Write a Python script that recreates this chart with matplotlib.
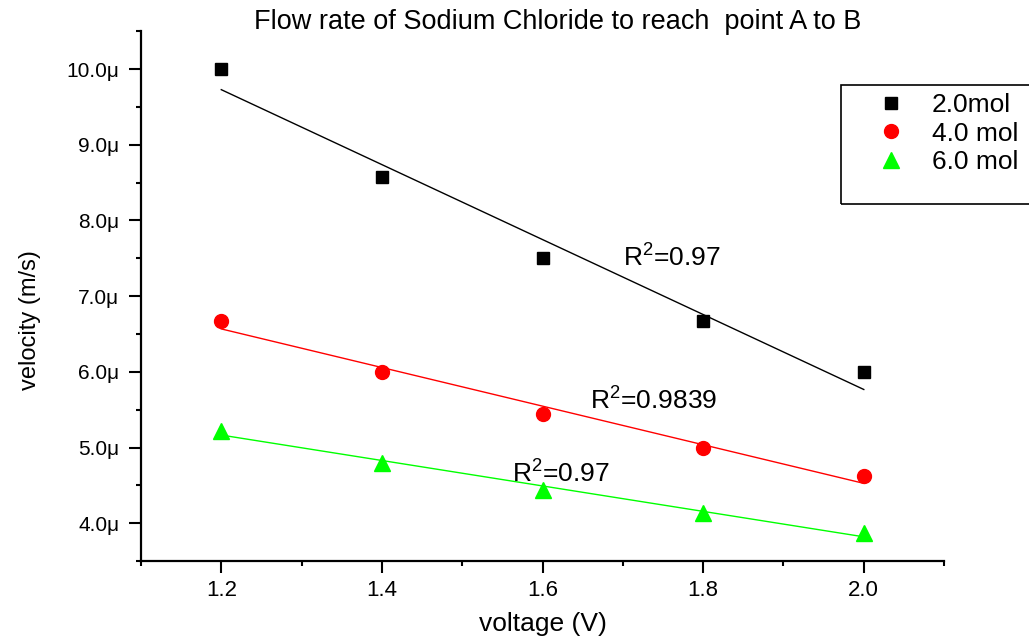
import numpy as np
import matplotlib
matplotlib.use("Agg")
import matplotlib.pyplot as plt
from matplotlib.ticker import MultipleLocator, FuncFormatter
from matplotlib.patches import Rectangle

voltage = [1.2, 1.4, 1.6, 1.8, 2.0]
v_2mol = [10.0, 8.57, 7.5, 6.67, 6.0]      # micro m/s
v_4mol = [6.67, 6.0, 5.45, 5.0, 4.62]
v_6mol = [5.22, 4.8, 4.44, 4.14, 3.87]
labels = ["2.0mol", "4.0 mol", "6.0 mol"]
r2_text = ["R$^2$=0.97", "R$^2$=0.9839", "R$^2$=0.97"]
r2_pos = [(1.700, 7.41), (1.659, 5.52), (1.562, 4.545)]

plt.rcParams['font.family'] = ['Liberation Sans', 'DejaVu Sans']
plt.rcParams['mathtext.fontset'] = 'custom'
plt.rcParams['mathtext.rm'] = 'Liberation Sans'

fig = plt.figure(figsize=(10.29, 6.37), dpi=100)
ax = fig.add_axes([0.137, 0.119, 0.7805, 0.832])

series = [(v_2mol, 'black', 's', 9), (v_4mol, 'red', 'o', 10), (v_6mol, '#00ff00', '^', 11)]
x = np.array(voltage)
handles = []
for (vals, col, mk, ms), lab in zip(series, labels):
    h, = ax.plot(voltage, vals, linestyle='none', marker=mk, color=col, markersize=ms, label=lab)
    handles.append(h)
    k, b = np.polyfit(x, vals, 1)
    ax.plot(x, k * x + b, color=col, lw=1)

for txt, (tx, ty) in zip(r2_text, r2_pos):
    ax.text(tx, ty, txt, fontsize=19, ha='left', va='baseline')

ax.set_xlim(1.1, 2.1)
ax.set_ylim(3.5, 10.5)
ax.xaxis.set_major_locator(MultipleLocator(0.2))
ax.xaxis.set_minor_locator(MultipleLocator(0.1))
ax.yaxis.set_major_locator(MultipleLocator(1.0))
ax.yaxis.set_minor_locator(MultipleLocator(0.5))
ax.xaxis.set_major_formatter(FuncFormatter(lambda v, p: f"{v:.1f}" if 1.15 < v < 2.05 else ""))
ax.yaxis.set_major_formatter(FuncFormatter(lambda v, p: f"{v:.1f}\u03bc" if 3.9 < v < 10.1 else ""))
ax.tick_params(which='major', direction='out', length=8.5, width=1.5, labelsize=15)
ax.tick_params(which='minor', direction='out', length=3.8, width=1.5)
ax.tick_params(axis='y', which='major', pad=7)
ax.tick_params(axis='x', which='major', pad=5, labelsize=16)
for s in ['top', 'right']:
    ax.spines[s].set_visible(False)
for s in ['left', 'bottom']:
    ax.spines[s].set_linewidth(1.6)

ax.set_xlabel("voltage (V)", fontsize=19)
ax.xaxis.set_label_coords(0.5, -0.119)
ax.xaxis.label.set_verticalalignment('center')
ax.set_ylabel("velocity (m/s)", fontsize=17)
ax.yaxis.set_label_coords(-0.138, 0.455)
ax.yaxis.label.set_verticalalignment('center')
fig.text(558 / 1029, 1 - 22 / 637, "Flow rate of Sodium Chloride to reach  point A to B",
         ha='center', va='center', fontsize=19.5)

fig.patches.append(Rectangle((841 / 1029, 1 - 204 / 637), 0.3, 119 / 637, transform=fig.transFigure,
                             fill=False, edgecolor='black', lw=1.2))
fig.legend(handles=handles, loc='upper left', bbox_to_anchor=(850 / 1029, 1 - 72 / 637),
           frameon=False, fontsize=19, handletextpad=0.8, labelspacing=0.17, handlelength=1.5,
           borderpad=0.3)

fig.savefig("out.png", dpi=100)
